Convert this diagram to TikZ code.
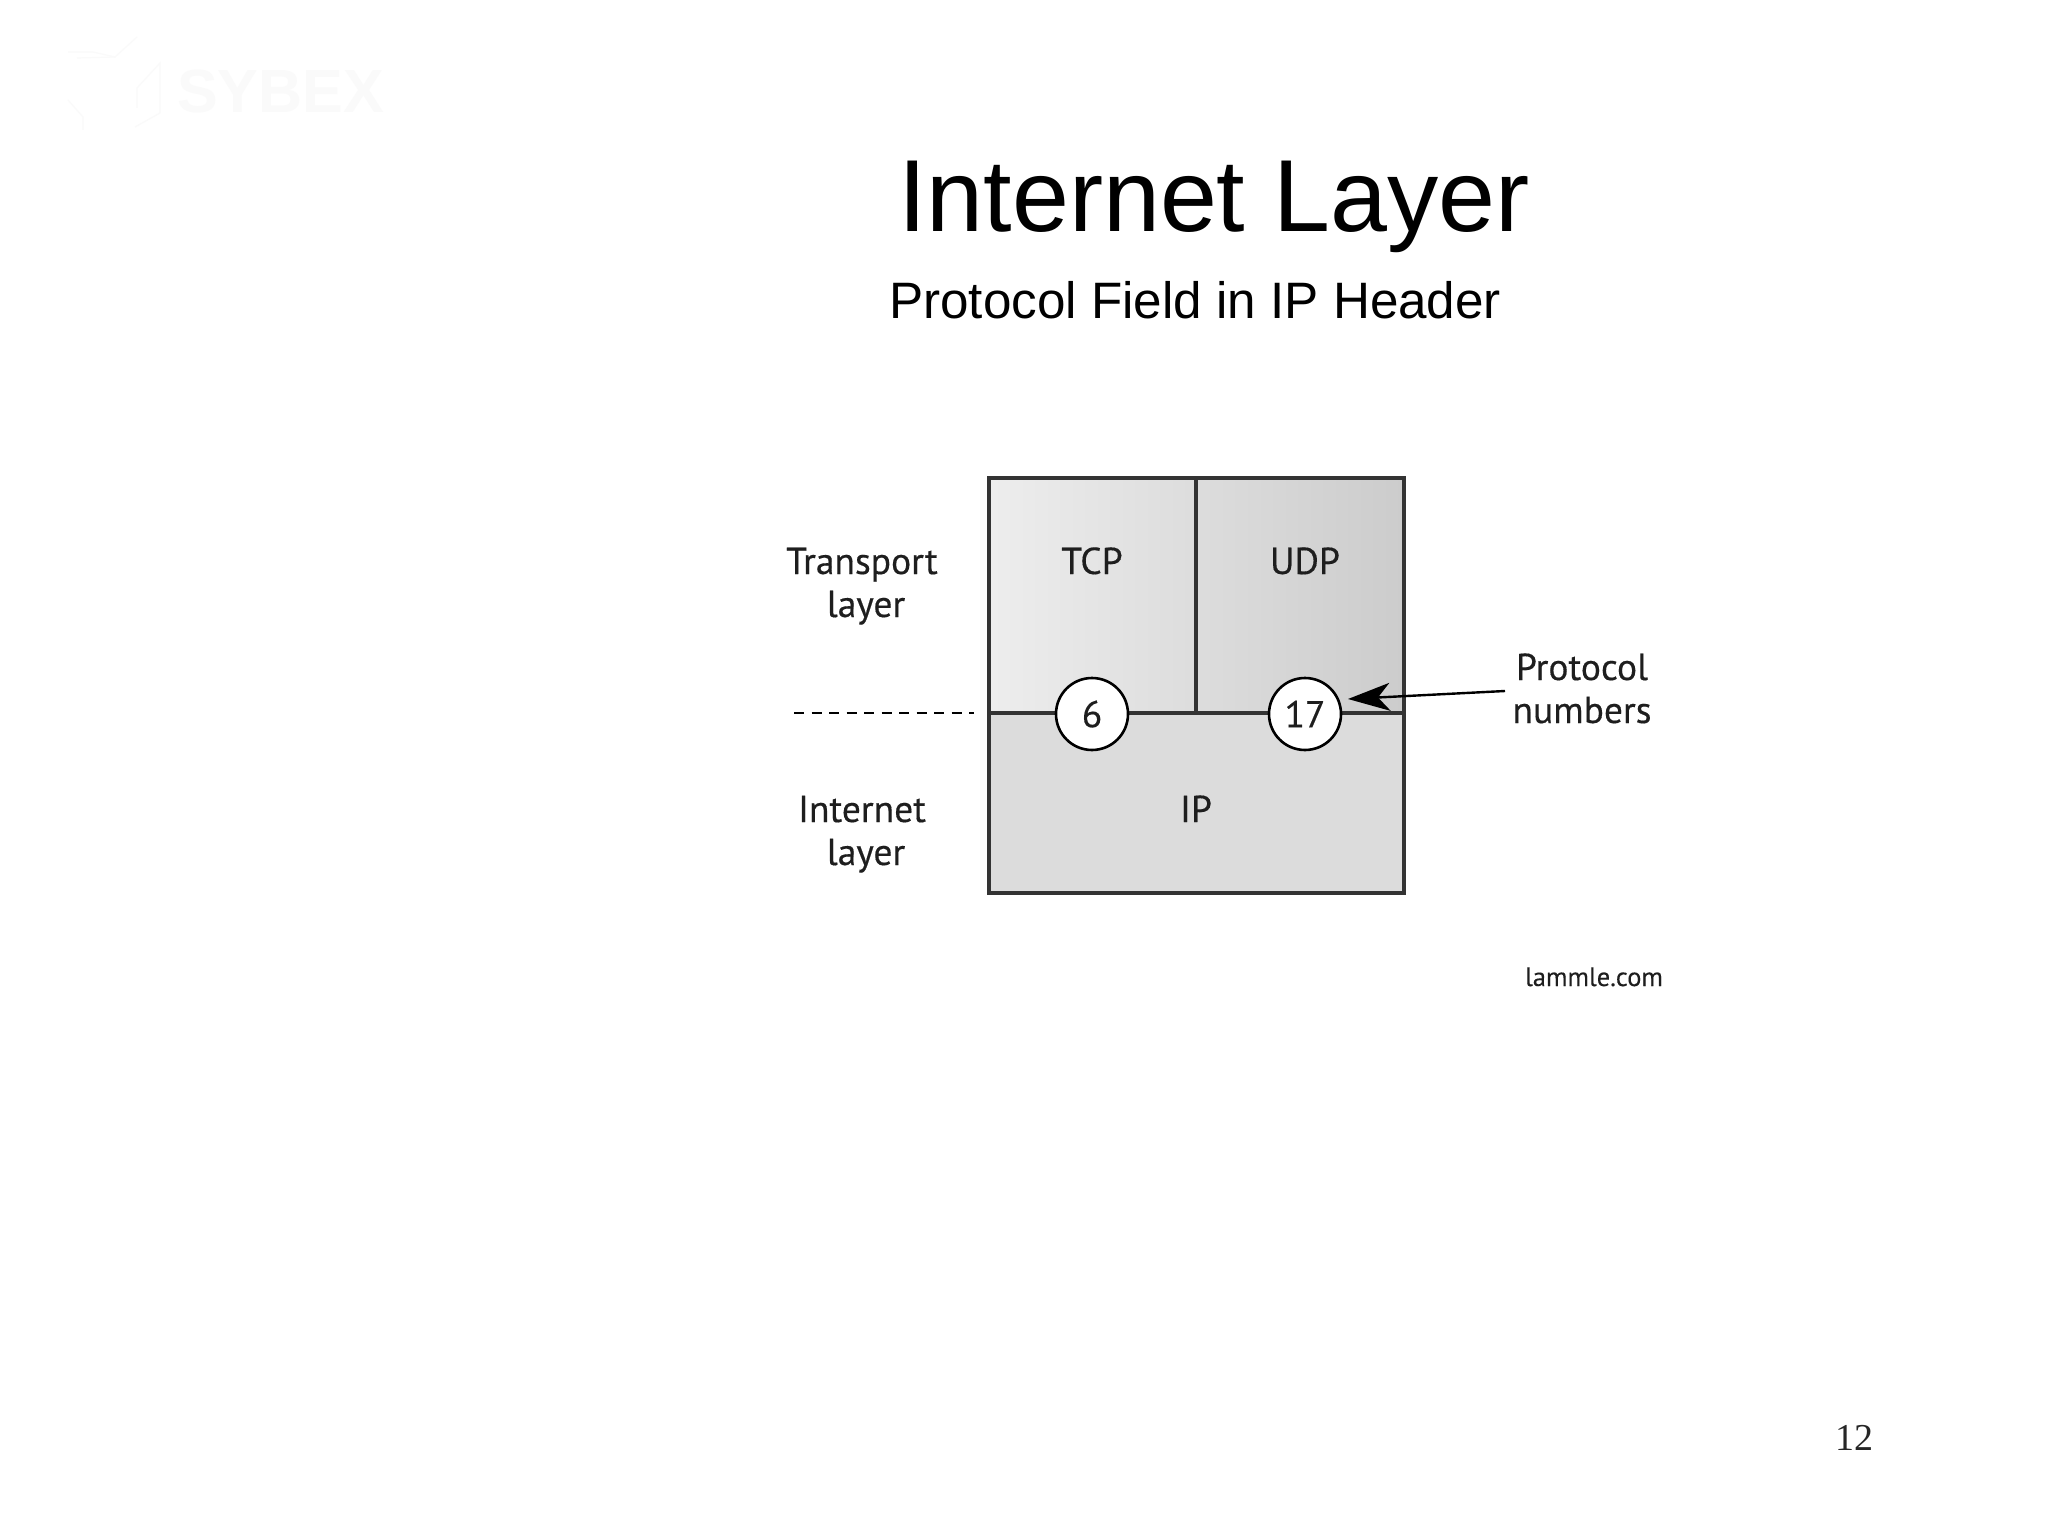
\documentclass[tikz,border=0pt]{standalone}
\usepackage{fontspec}
\setmainfont{Liberation Sans}
\newfontfamily\lab[FakeBold=0.35]{PT Sans}
\newfontfamily\labb[FakeBold=0.2]{PT Sans}
\newfontfamily\pageserif{Liberation Serif}
\usetikzlibrary{arrows.meta}
\definecolor{ipgray}{HTML}{DCDCDC}
\definecolor{edgegray}{HTML}{333333}
\definecolor{labink}{HTML}{1E1E1E}
\definecolor{logoink}{HTML}{FAFAFA}
\tikzset{
  x=1pt,y=-1pt,
  txt/.style={font=\lab\fontsize{37.5}{37.5}\selectfont,text=labink,inner sep=0pt,anchor=base,align=center},
  numcirc/.style={circle,draw=black,line width=2.6pt,fill=white,minimum size=72pt,inner sep=0pt,font=\lab\fontsize{37.5}{37.5}\selectfont,text=labink},
  rule/.style={draw=edgegray,line width=3.4pt},
  logoline/.style={draw=logoink,line width=1.2pt},
}
\begin{document}
\begin{tikzpicture}
\useasboundingbox (0,0) rectangle (2048,1536);
\fill[white] (0,0) rectangle (2048,1536);
% faint logo
\node[inner sep=0pt,anchor=base west,text=logoink,font=\bfseries\fontsize{61}{61}\selectfont] (logo) at (177,113) {SYBEX};
\draw[logoline] (68,52) -- (93,52) -- (115,57) -- (137,37);
\draw[logoline] (77,58) -- (115,57);
\draw[logoline] (68,100) -- (83,117) -- (83,130);
\draw[logoline] (135,127) -- (160,113) -- (160,63) -- (137,88) -- (137,108);
% title
\node[inner sep=0pt,anchor=base west,font=\fontsize{102.4}{102.4}\selectfont] (title) at (898,231) {Internet Layer};
\node[inner sep=0pt,anchor=base west,font=\fontsize{51.2}{51.2}\selectfont] (sub) at (889,318) {Protocol Field in IP Header};
% boxes
\shade[left color=black!7,right color=black!20] (989,478) rectangle (1404,713);
\fill[ipgray] (989,713) rectangle (1404,893);
\draw[rule] (989,478) rectangle (1404,893);
\coordinate (ml) at (989,713);
\coordinate (mr) at (1404,713);
\coordinate (dt) at (1196,478);
\coordinate (db) at (1196,713);
\draw[rule] (ml) -- (mr);
\draw[rule] (dt) -- (db);
\node[numcirc] (six) at (1092,714) {6};
\node[numcirc] (seventeen) at (1305,714) {17};
\node[txt] (tcp) at (1092,574) {TCP};
\node[txt] (udp) at (1305,574) {UDP};
\node[txt] (ip) at (1196,822) {IP};
\node[txt] (transport) at (862,574) {Transport};
\node[txt] (tlayer) at (866,617) {layer};
\node[txt] (internet) at (862,822) {Internet};
\node[txt] (ilayer) at (866,865) {layer};
\node[txt] (proto) at (1582,680) {Protocol};
\node[txt] (numbers) at (1582,723) {numbers};
\node[inner sep=0pt,anchor=base,text=labink,font=\labb\fontsize{26.5}{26.5}\selectfont] (lammle) at (1594,986) {lammle.com};
% dashed
\coordinate (da) at (794,713);
\coordinate (dc) at (974,713);
\draw[black,line width=2.4pt,dash pattern=on 10pt off 7.5pt] (da) -- (dc);
% arrow
\coordinate (as) at (1505,691);
\coordinate (ae) at (1348,699);
\draw[black,line width=2.4pt,-{Stealth[length=42pt,width=28pt,inset=12pt]}] (as) -- (ae);
% page number
\node[inner sep=0pt,anchor=base,font=\pageserif\fontsize{38}{38}\selectfont,text=black!85] (pg) at (1854,1450) {12};
\end{tikzpicture}
\end{document}
